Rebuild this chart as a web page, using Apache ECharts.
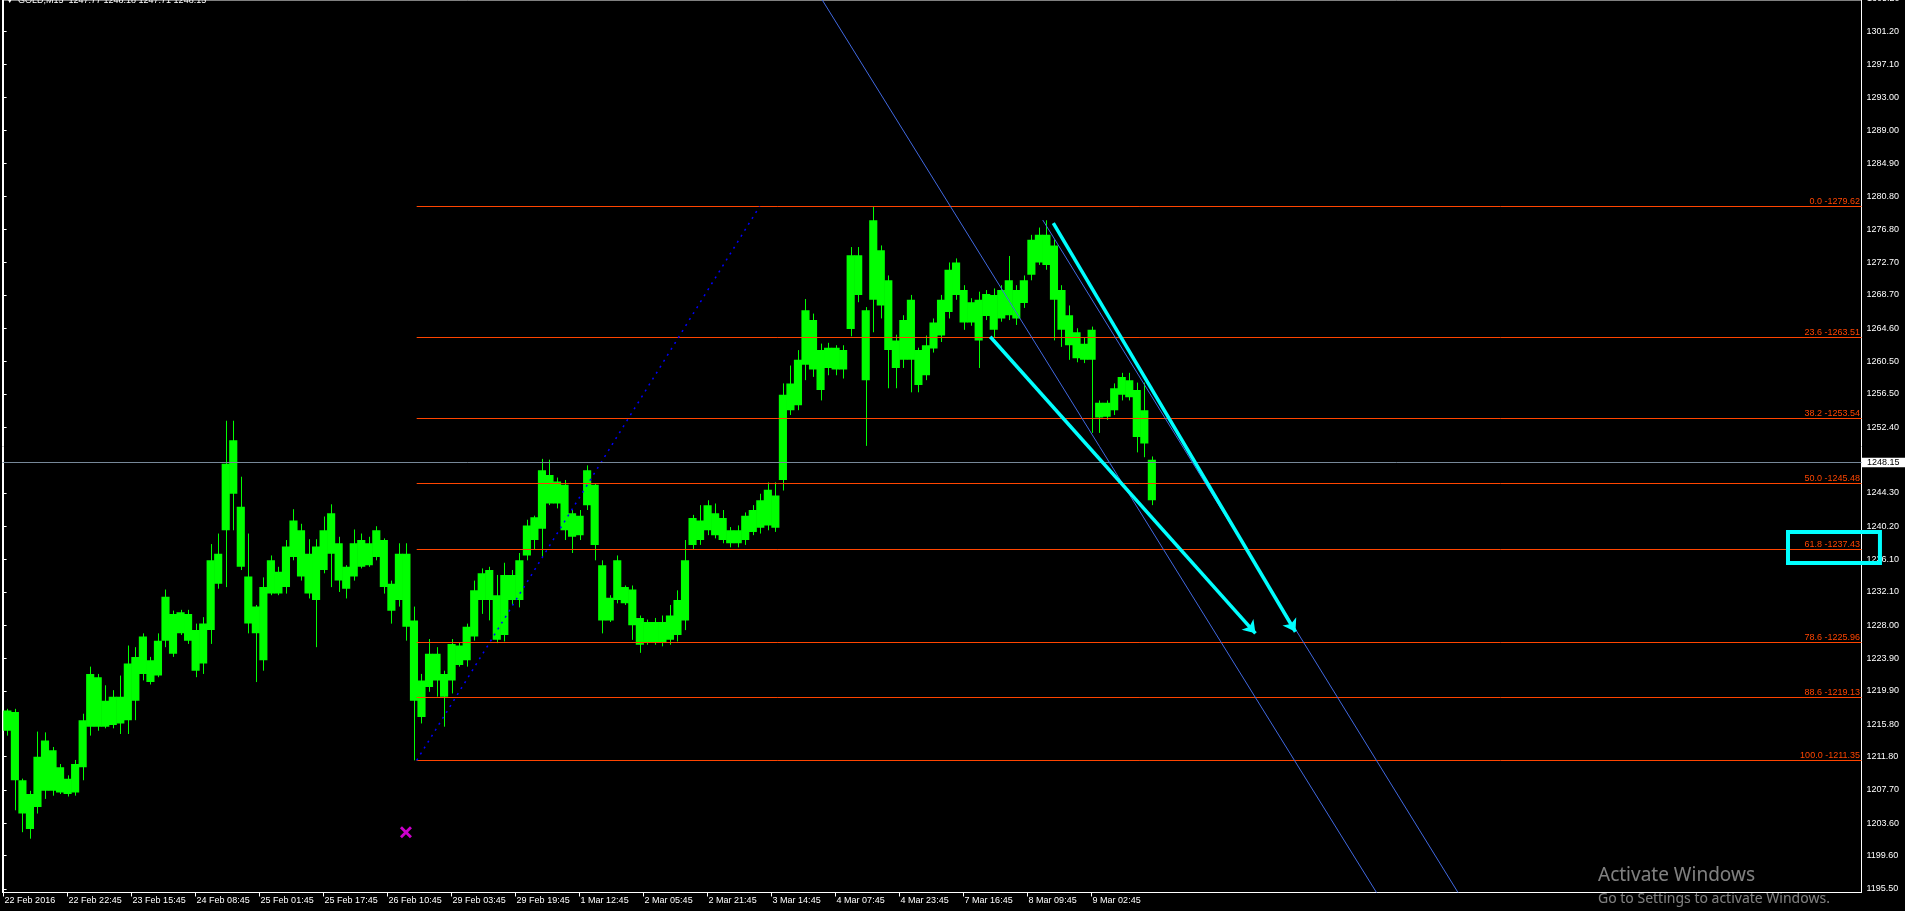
<!DOCTYPE html>
<html><head><meta charset="utf-8">
<script src="https://cdn.jsdelivr.net/npm/echarts@6/dist/echarts.min.js"></script>
<style>html,body{margin:0;padding:0;background:#000;overflow:hidden}#c{width:1905px;height:911px}</style>
</head><body><div id="c"></div>
<script>
// ---- data ----
const xTickBars = [0,68,136,204,272,340,408,476,544,612,680,748,816,884,952,1020,1088,1156];
const xTickLabels = ['22 Feb 2016','22 Feb 22:45','23 Feb 15:45','24 Feb 08:45','25 Feb 01:45','25 Feb 17:45','26 Feb 10:45','29 Feb 03:45','29 Feb 19:45','1 Mar 12:45','2 Mar 05:45','2 Mar 21:45','3 Mar 14:45','4 Mar 07:45','4 Mar 23:45','7 Mar 16:45','8 Mar 09:45','9 Mar 02:45'];
const yTickLabels = ['1195.50','1199.60','1203.60','1207.70','1211.80','1215.80','1219.90','1223.90','1228.00','1232.10','1236.10','1240.20','1244.30','1252.40','1256.50','1260.50','1264.60','1268.70','1272.70','1276.80','1280.80','1284.90','1289.00','1293.00','1297.10','1301.20'];
const yTopCutLabel = '1305.20';
const blockBars = 8; // each block = 8 M15 bars
const bodyLow  = [1215.0,1208.9,1204.8,1202.9,1205.6,1207.6,1207.6,1207.4,1207.2,1207.4,1210.5,1215.5,1215.5,1215.5,1215.7,1215.9,1216.3,1218.7,1222.0,1221.0,1221.8,1226.1,1224.5,1227.0,1226.1,1222.4,1223.3,1227.4,1233.1,1239.7,1244.2,1235.2,1228.2,1227.0,1223.7,1231.9,1231.9,1232.7,1236.4,1234.0,1231.9,1231.1,1234.8,1236.8,1233.5,1232.5,1234.0,1235.2,1235.4,1236.4,1232.7,1229.8,1231.1,1227.8,1218.7,1216.7,1220.4,1221.2,1219.2,1221.2,1223.1,1223.7,1226.6,1231.1,1231.1,1226.2,1226.8,1231.1,1231.1,1236.6,1238.5,1239.9,1243.0,1243.0,1239.7,1238.9,1239.1,1242.8,1237.9,1228.6,1228.6,1231.1,1230.7,1228.0,1225.6,1225.9,1225.9,1225.9,1226.2,1226.8,1228.6,1237.9,1238.5,1239.7,1239.1,1238.5,1238.1,1238.1,1238.5,1239.5,1240.0,1240.3,1240.0,1245.9,1254.5,1255.1,1260.1,1259.5,1257.0,1259.7,1259.5,1259.5,1264.5,1268.7,1258.2,1268.1,1267.4,1261.9,1259.7,1260.7,1260.7,1257.6,1258.8,1262.1,1263.7,1266.6,1268.7,1265.3,1265.3,1263.1,1266.1,1264.4,1265.8,1266.2,1265.8,1267.7,1271.2,1272.7,1272.4,1268.1,1264.4,1262.5,1260.9,1260.7,1260.7,1253.6,1253.7,1254.5,1256.4,1256.1,1251.2,1250.4,1243.4];
const bodyHigh = [1217.5,1217.3,1208.9,1207.2,1211.8,1213.8,1212.6,1210.5,1209.1,1210.9,1216.3,1222.0,1221.6,1218.7,1219.2,1219.2,1223.3,1224.1,1226.6,1223.7,1226.1,1231.5,1229.4,1229.6,1229.4,1227.4,1228.2,1236.0,1236.8,1247.9,1250.8,1242.6,1234.0,1230.3,1232.7,1236.0,1234.6,1237.7,1240.9,1239.7,1236.8,1237.7,1239.7,1241.8,1238.1,1235.2,1238.1,1238.5,1238.1,1239.7,1238.5,1233.1,1236.8,1236.8,1228.6,1221.2,1224.5,1224.5,1222.0,1225.7,1225.5,1227.8,1232.3,1234.4,1234.8,1231.7,1234.2,1234.2,1236.0,1240.3,1241.3,1247.1,1246.5,1245.7,1245.3,1241.8,1241.5,1247.1,1245.3,1235.4,1231.4,1236.0,1232.7,1232.4,1228.9,1228.4,1228.4,1228.4,1229.2,1231.1,1236.0,1241.2,1240.9,1242.8,1241.8,1241.2,1239.7,1239.7,1241.5,1242.2,1243.4,1244.7,1244.0,1256.4,1257.8,1260.7,1266.8,1265.6,1261.9,1262.2,1262.2,1261.9,1273.6,1273.6,1266.8,1277.9,1274.2,1270.5,1263.1,1265.6,1268.1,1261.9,1262.5,1265.3,1268.1,1271.8,1272.7,1269.3,1267.8,1268.1,1268.8,1268.7,1269.3,1270.5,1269.3,1270.5,1275.5,1276.1,1276.1,1274.8,1269.3,1266.2,1264.1,1262.7,1264.4,1255.4,1255.4,1257.2,1258.6,1258.2,1257.0,1254.5,1248.4];
const wickLow  = [1214.4,1205.2,1202.5,1201.7,1204.8,1206.6,1207.0,1207.2,1206.9,1207.0,1208.9,1214.4,1215.0,1215.3,1215.3,1214.6,1214.6,1216.3,1221.2,1220.7,1221.6,1225.3,1224.1,1226.8,1225.7,1221.6,1222.0,1225.7,1232.5,1232.7,1239.7,1234.8,1227.0,1221.0,1222.4,1231.7,1231.7,1231.9,1236.0,1233.5,1231.3,1225.3,1234.4,1232.7,1232.1,1231.3,1233.5,1235.0,1235.2,1236.0,1231.9,1228.2,1230.3,1226.1,1211.35,1215.9,1219.8,1219.2,1215.5,1219.6,1222.9,1222.9,1226.1,1229.4,1228.6,1225.8,1226.0,1230.5,1230.2,1236.0,1237.3,1236.4,1242.8,1242.4,1238.5,1236.9,1238.5,1242.2,1236.0,1227.0,1228.4,1230.7,1230.5,1226.2,1224.6,1225.6,1225.6,1225.4,1225.6,1226.0,1227.4,1237.3,1237.9,1239.1,1238.7,1238.1,1237.6,1237.6,1237.9,1239.1,1239.3,1239.7,1239.5,1244.6,1253.9,1254.5,1258.2,1258.6,1255.7,1258.8,1258.8,1258.4,1263.6,1267.8,1250.1,1264.1,1265.8,1257.2,1257.2,1259.7,1256.7,1256.7,1258.2,1261.6,1262.9,1265.8,1268.1,1264.4,1264.9,1259.7,1265.6,1263.5,1265.4,1265.6,1265.0,1267.1,1270.5,1272.4,1271.8,1263.1,1262.3,1260.7,1260.4,1260.3,1251.7,1251.7,1253.3,1253.9,1255.7,1255.7,1249.3,1248.7,1242.8];
const wickHigh = [1217.7,1217.7,1209.1,1207.6,1214.9,1214.8,1213.0,1210.9,1209.5,1211.4,1217.1,1222.9,1222.0,1220.6,1220.0,1221.8,1225.5,1225.3,1227.0,1224.1,1227.0,1232.4,1229.8,1229.9,1229.9,1228.2,1229.0,1238.0,1239.3,1253.2,1253.2,1246.3,1239.3,1230.5,1233.9,1236.6,1235.2,1238.5,1242.3,1240.5,1238.6,1238.6,1241.4,1242.9,1238.9,1235.4,1239.8,1239.3,1238.9,1240.2,1238.7,1233.5,1238.1,1238.1,1230.3,1222.0,1226.3,1225.3,1222.4,1226.3,1225.9,1228.2,1233.5,1235.0,1235.2,1234.2,1235.7,1234.8,1236.9,1241.0,1241.5,1248.5,1248.4,1246.2,1245.9,1242.2,1242.2,1247.7,1245.5,1236.0,1231.7,1236.6,1232.9,1232.9,1229.2,1228.7,1228.9,1229.2,1230.5,1232.3,1238.5,1241.6,1242.8,1243.4,1243.0,1242.2,1240.1,1240.3,1241.9,1242.8,1244.2,1245.6,1245.6,1257.8,1260.0,1261.9,1268.2,1266.4,1262.7,1262.8,1262.5,1262.5,1274.6,1274.6,1267.2,1279.62,1274.8,1271.1,1263.8,1266.2,1268.7,1262.2,1263.7,1265.8,1268.7,1272.7,1273.2,1269.9,1268.3,1269.1,1269.3,1269.5,1269.9,1273.5,1269.9,1271.1,1276.1,1277.0,1277.9,1275.5,1269.9,1267.4,1264.6,1263.4,1264.8,1255.7,1255.7,1257.8,1259.1,1259.1,1257.9,1257.9,1248.8];
const fibLevels = ['0.0','23.6','38.2','50.0','61.8','78.6','88.6','100.0'];
const fibPrices = [1279.62,1263.51,1253.54,1245.48,1237.43,1225.96,1219.13,1211.35];
const fibStartBar = 438.9;
const fibAnchorLine = [[438.9,1211.35],[803.3,1279.62]];
const lastPrice = 1248.15;
const channelA = [[869.8,1305.04],[1458.7,1195.07]];
const channelB = [[1104.1,1277.93],[1545.3,1195.07]];
const arrow1 = [[1048.3,1263.55],[1330.1,1227.0]];
const arrow2 = [[1115.3,1277.56],[1372.6,1227.2]];
const crossMark = [427.5,1202.5];
const highlightBox = [[1895.9,1239.49],[1993.6,1235.67]];
const titleText = 'GOLD,M15  1247.77 1248.18 1247.71 1248.15';

// ---- chart ----
const FONT = '"Liberation Sans", Arial, sans-serif';
const chart = echarts.init(document.getElementById('c'), null, {renderer:'canvas'});
const option = {
  backgroundColor:'#000',
  animation:false,
  grid:{left:2.5, right:43.5, top:0, bottom:18.5, show:true, borderColor:'#fff', borderWidth:1, backgroundColor:'#000'},
  xAxis:{type:'value', min:-1.17, max:1974.0,
    axisLine:{show:true, lineStyle:{color:'#fff', width:1}},
    axisTick:{show:true, length:4, lineStyle:{color:'#fff'}, customValues:xTickBars},
    axisLabel:{show:true, color:'#fff', fontSize:9, fontFamily:FONT, align:'left', margin:4, padding:[0,0,0,1],
      customValues:xTickBars, formatter:(v)=>{const i=xTickBars.indexOf(Math.round(v));return i>=0?xTickLabels[i]:'';}},
    splitLine:{show:false}},
  yAxis:{type:'value', position:'right', min:1195.07, max:1305.04,
    axisLine:{show:true, lineStyle:{color:'#fff', width:1}},
    axisTick:{show:true, length:3, lineStyle:{color:'#fff'}, customValues:yTickLabels.map(Number)},
    axisLabel:{show:true, color:'#fff', fontSize:9, fontFamily:FONT, margin:5,
      customValues:yTickLabels.map(Number), formatter:(v)=>Number(v).toFixed(2)},
    splitLine:{show:false}},
  graphic:[
    {type:'polygon', shape:{points:[[7,-2],[12.5,-2],[9.75,3]]}, style:{fill:'#fff'}},
    {type:'text', x:18, y:-4, style:{text:titleText, fill:'#fff', font:'9px '+FONT, verticalAlign:'top'}},
    {type:'text', x:1598, y:876, style:{text:'Activate Windows', fill:'rgba(255,255,255,0.5)', font:'19px "Noto Sans", "Open Sans", sans-serif', verticalAlign:'middle'}},
    {type:'text', x:1598, y:899, style:{text:'Go to Settings to activate Windows.', fill:'rgba(255,255,255,0.5)', font:'14px "Noto Sans", "Open Sans", sans-serif', verticalAlign:'middle'}}
  ],
  series:[
    { // green M15 bars, grouped in blocks of 8 bars (body = main range, wick = extremes)
      type:'custom', silent:true, clip:true, z:2,
      data: bodyLow.map((v,i)=>[i*blockBars, v, bodyHigh[i], wickLow[i], wickHigh[i]]),
      encode:{x:0, y:[1,2,3,4]},
      renderItem(params, api){
        const b = api.value(0);
        const tl = api.coord([b, api.value(2)]);
        const br = api.coord([b+blockBars, api.value(1)]);
        const wt = api.coord([b+blockBars/2, api.value(4)]);
        const wb = api.coord([b+blockBars/2, api.value(3)]);
        const wx = Math.round(wt[0])+0.5;
        return {type:'group', children:[
          {type:'rect', shape:{x:tl[0]-0.3, y:tl[1], width:br[0]-tl[0]+0.6, height:Math.max(1, br[1]-tl[1])}, style:{fill:'#00ff00'}},
          {type:'line', shape:{x1:wx, y1:wt[1], x2:wx, y2:wb[1]}, style:{stroke:'#00ff00', lineWidth:1}}
        ]};
      }
    },
    { // fibonacci levels
      type:'custom', silent:true, clip:false, z:3,
      data: fibPrices.map((p,i)=>[fibStartBar, p, i]),
      encode:{x:0, y:1},
      renderItem(params, api){
        const p = api.value(1), i = api.value(2);
        const a = api.coord([api.value(0), p]);
        const cs = params.coordSys;
        const xr = cs.x + cs.width;
        const y = Math.round(a[1]) + 0.5;
        return {type:'group', children:[
          {type:'line', shape:{x1:a[0], y1:y, x2:xr, y2:y}, style:{stroke:'#ff4500', lineWidth:1}},
          {type:'text', style:{text:fibLevels[i]+' -'+p.toFixed(2), x:xr-1.5, y:y-0.5, align:'right', verticalAlign:'bottom', fill:'#ff4500', font:'9px '+FONT}}
        ]};
      }
    },
    { // fib anchor dotted line
      type:'line', silent:true, data:fibAnchorLine, symbol:'none', z:3,
      lineStyle:{color:'#0000ff', width:1.5, type:[2,5]}
    },
    { // current price line + axis box, plus the cut-off top axis label
      type:'custom', silent:true, clip:false, z:4,
      data:[[0, lastPrice, Number(yTopCutLabel)]], encode:{x:0, y:1},
      renderItem(params, api){
        const cs = params.coordSys;
        const y = Math.round(api.coord([0, api.value(1)])[1]) + 0.5;
        const yTop = api.coord([0, api.value(2)])[1];
        const xr = cs.x + cs.width;
        return {type:'group', children:[
          {type:'line', shape:{x1:cs.x, y1:y, x2:xr, y2:y}, style:{stroke:'#778899', lineWidth:1}},
          {type:'rect', shape:{x:xr+0.5, y:y-4.75, width:43, height:9.5}, style:{fill:'#fff'}},
          {type:'text', style:{text:api.value(1).toFixed(2), x:xr+5.5, y:y, verticalAlign:'middle', fill:'#000', font:'9px '+FONT}},
          {type:'text', style:{text:yTopCutLabel, x:xr+5.5, y:yTop, verticalAlign:'middle', fill:'#fff', font:'9px '+FONT}}
        ]};
      }
    },
    {type:'line', silent:true, data:channelA, symbol:'none', z:4, lineStyle:{color:'#4169e1', width:1}},
    {type:'line', silent:true, data:channelB, symbol:'none', z:4, lineStyle:{color:'#4169e1', width:1}},
    { // cyan arrows
      type:'lines', coordinateSystem:'cartesian2d', silent:true, z:6,
      data:[{coords:arrow1},{coords:arrow2}],
      lineStyle:{color:'#00ffff', width:3.5, opacity:1, curveness:0},
      symbol:['none','arrow'], symbolSize:12
    },
    { // highlight box
      type:'custom', silent:true, clip:false, z:7,
      data:[[highlightBox[0][0], highlightBox[0][1], highlightBox[1][0], highlightBox[1][1]]],
      encode:{x:[0,2], y:[1,3]},
      renderItem(params, api){
        const a = api.coord([api.value(0), api.value(1)]);
        const b = api.coord([api.value(2), api.value(3)]);
        return {type:'rect', shape:{x:a[0], y:a[1], width:b[0]-a[0], height:b[1]-a[1]}, style:{fill:'none', stroke:'#00ffff', lineWidth:4}};
      }
    },
    { // magenta cross
      type:'scatter', silent:true, z:6, data:[crossMark],
      symbol:'path://M2,0 L6,4 L10,0 L12,2 L8,6 L12,10 L10,12 L6,8 L2,12 L0,10 L4,6 L0,2 Z',
      symbolSize:12, itemStyle:{color:'#ff00ff'}
    }
  ]
};
chart.setOption(option);
</script></body></html>
